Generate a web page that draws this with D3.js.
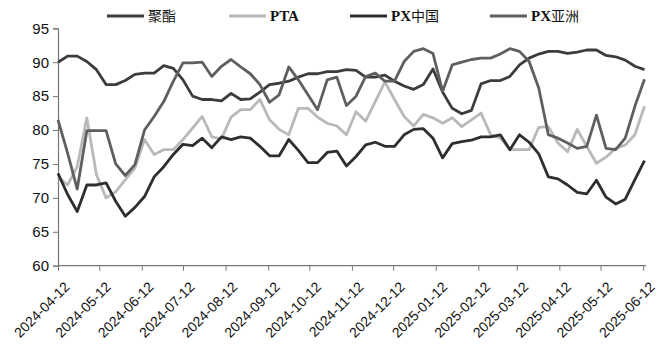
<!DOCTYPE html>
<html><head><meta charset="utf-8">
<script src="https://cdn.jsdelivr.net/npm/d3@7"></script>
<style>body{margin:0;background:#fff}svg{display:block}</style>
</head><body>
<svg id="c" width="658" height="346"></svg>
<script>
const startDate = "2024-04-12";
const weeks = 62;
const seriesNames = ["聚酯", "PTA", "PX中国", "PX亚洲"];
const polyester = [90.0,90.9,90.9,90.1,88.9,86.7,86.7,87.3,88.2,88.4,88.4,89.5,89.1,87.4,85.0,84.5,84.5,84.3,85.4,84.5,84.6,85.6,86.7,86.9,87.2,87.8,88.3,88.3,88.6,88.6,88.9,88.8,87.8,87.8,88.1,87.2,86.5,86.0,86.7,89.0,85.6,83.2,82.4,82.9,86.8,87.3,87.3,87.9,89.6,90.6,91.2,91.6,91.6,91.3,91.5,91.8,91.8,91.0,90.8,90.3,89.4,88.9];
const pta = [73.1,71.9,74.6,81.8,73.4,70.0,70.9,72.7,74.4,78.6,76.4,77.1,77.1,78.6,80.3,82.0,79.0,78.7,81.9,83.0,83.0,84.5,81.5,80.1,79.3,83.2,83.2,81.9,81.0,80.6,79.3,82.7,81.3,84.2,87.1,84.5,82.0,80.6,82.3,81.8,81.0,81.8,80.5,81.5,82.5,79.3,78.8,77.1,77.1,77.1,80.4,80.5,78.1,76.8,80.1,77.6,75.1,76.0,77.3,77.8,79.3,83.5];
const pxChina = [73.6,70.5,68.0,71.9,71.9,72.2,69.5,67.3,68.6,70.2,73.1,74.6,76.4,77.9,77.7,78.8,77.4,79.0,78.6,79.0,78.8,77.6,76.2,76.2,78.6,77.0,75.2,75.2,76.7,76.9,74.7,76.1,77.8,78.2,77.6,77.6,79.3,80.1,80.2,78.8,75.9,78.0,78.3,78.5,79.0,79.0,79.3,77.1,79.3,78.2,76.5,73.1,72.8,71.9,70.8,70.6,72.6,70.1,69.1,69.8,72.7,75.5];
const pxAsia = [81.5,76.6,71.3,79.9,79.9,79.9,75.0,73.3,74.9,80.0,82.0,84.2,87.2,89.9,89.9,90.0,87.9,89.4,90.4,89.3,88.3,86.7,84.1,85.2,89.3,87.4,85.2,83.0,87.4,87.8,83.6,85.0,87.9,88.4,87.2,87.2,90.1,91.6,92.0,91.3,85.7,89.6,90.0,90.4,90.6,90.6,91.2,92.0,91.6,90.1,86.2,79.3,78.8,78.1,77.3,77.6,82.2,77.3,77.1,78.8,83.5,87.5];
const yTicks = [60,65,70,75,80,85,90,95];
const xTickLabels = ["2024-04-12","2024-05-12","2024-06-12","2024-07-12","2024-08-12","2024-09-12","2024-10-12","2024-11-12","2024-12-12","2025-01-12","2025-02-12","2025-03-12","2025-04-12","2025-05-12","2025-06-12"];
const colors = ["#3c3c3c","#b9b9b9","#2e2e2e","#5f5f5f"];

const parse = d3.timeParse("%Y-%m-%d");
const t0 = parse(startDate);
const dates = d3.range(weeks).map(i => d3.timeDay.offset(t0, i*7));
const allSeries = [polyester, pta, pxChina, pxAsia];

const svg = d3.select("#c");
const x = d3.scaleTime().domain([dates[0], dates[dates.length-1]]).range([58, 644.5]);
const y = d3.scaleLinear().domain([60,95]).range([265.7, 28.3]);

// Y axis
const gy = svg.append("g").attr("transform","translate(58,0)")
  .call(d3.axisLeft(y).tickValues(yTicks).tickSize(5).tickPadding(4).tickFormat(d3.format("d")));
gy.select(".domain").attr("stroke","#777").attr("stroke-width",1.2);
gy.selectAll(".tick line").attr("stroke","#777");
gy.selectAll("text").attr("font-family","Liberation Sans, Arial, sans-serif").attr("font-size",15).attr("fill","#111");

// X axis
const gx = svg.append("g").attr("transform","translate(0,265.7)")
  .call(d3.axisBottom(x).tickValues(xTickLabels.map(parse)).tickSize(5).tickFormat(d3.timeFormat("%Y-%m-%d")));
gx.select(".domain").attr("stroke","#777").attr("stroke-width",1.2).attr("d","M58,0H646");
gx.selectAll(".tick line").attr("stroke","#777");
gx.selectAll("text")
  .attr("font-family","Liberation Sans, Arial, sans-serif").attr("font-size",14).attr("fill","#111")
  .attr("text-anchor","end").attr("dy","0.35em")
  .attr("transform","translate(3,13) rotate(-45)");

// Lines
const line = d3.line().x((d,i)=>x(dates[i])).y(d=>y(d));
allSeries.forEach((s,k)=>{
  svg.append("path").datum(s).attr("d",line).attr("fill","none")
    .attr("stroke",colors[k]).attr("stroke-width",2.8).attr("stroke-linejoin","round");
});

// Legend
const legX = [107, 229, 350, 490];
const lg = svg.append("g");
seriesNames.forEach((n,k)=>{
  lg.append("line").attr("x1",legX[k]).attr("x2",legX[k]+37).attr("y1",16).attr("y2",16)
    .attr("stroke",colors[k]).attr("stroke-width",3);
  const t = lg.append("text").attr("x",legX[k]+41).attr("y",16).attr("dy","0.35em")
    .attr("font-size",15).attr("fill","#111");
  const parts = n.match(/[A-Za-z]+|[^A-Za-z]+/g);
  parts.forEach(p=>{
    const latin = /^[A-Za-z]+$/.test(p);
    t.append("tspan").text(p)
      .attr("font-family", latin ? "Liberation Serif, serif" : "'Noto Sans CJK SC', sans-serif")
      .attr("font-weight", latin ? "bold" : "normal")
      .attr("font-size", latin ? 15 : 14);
  });
});
</script>
</body></html>
